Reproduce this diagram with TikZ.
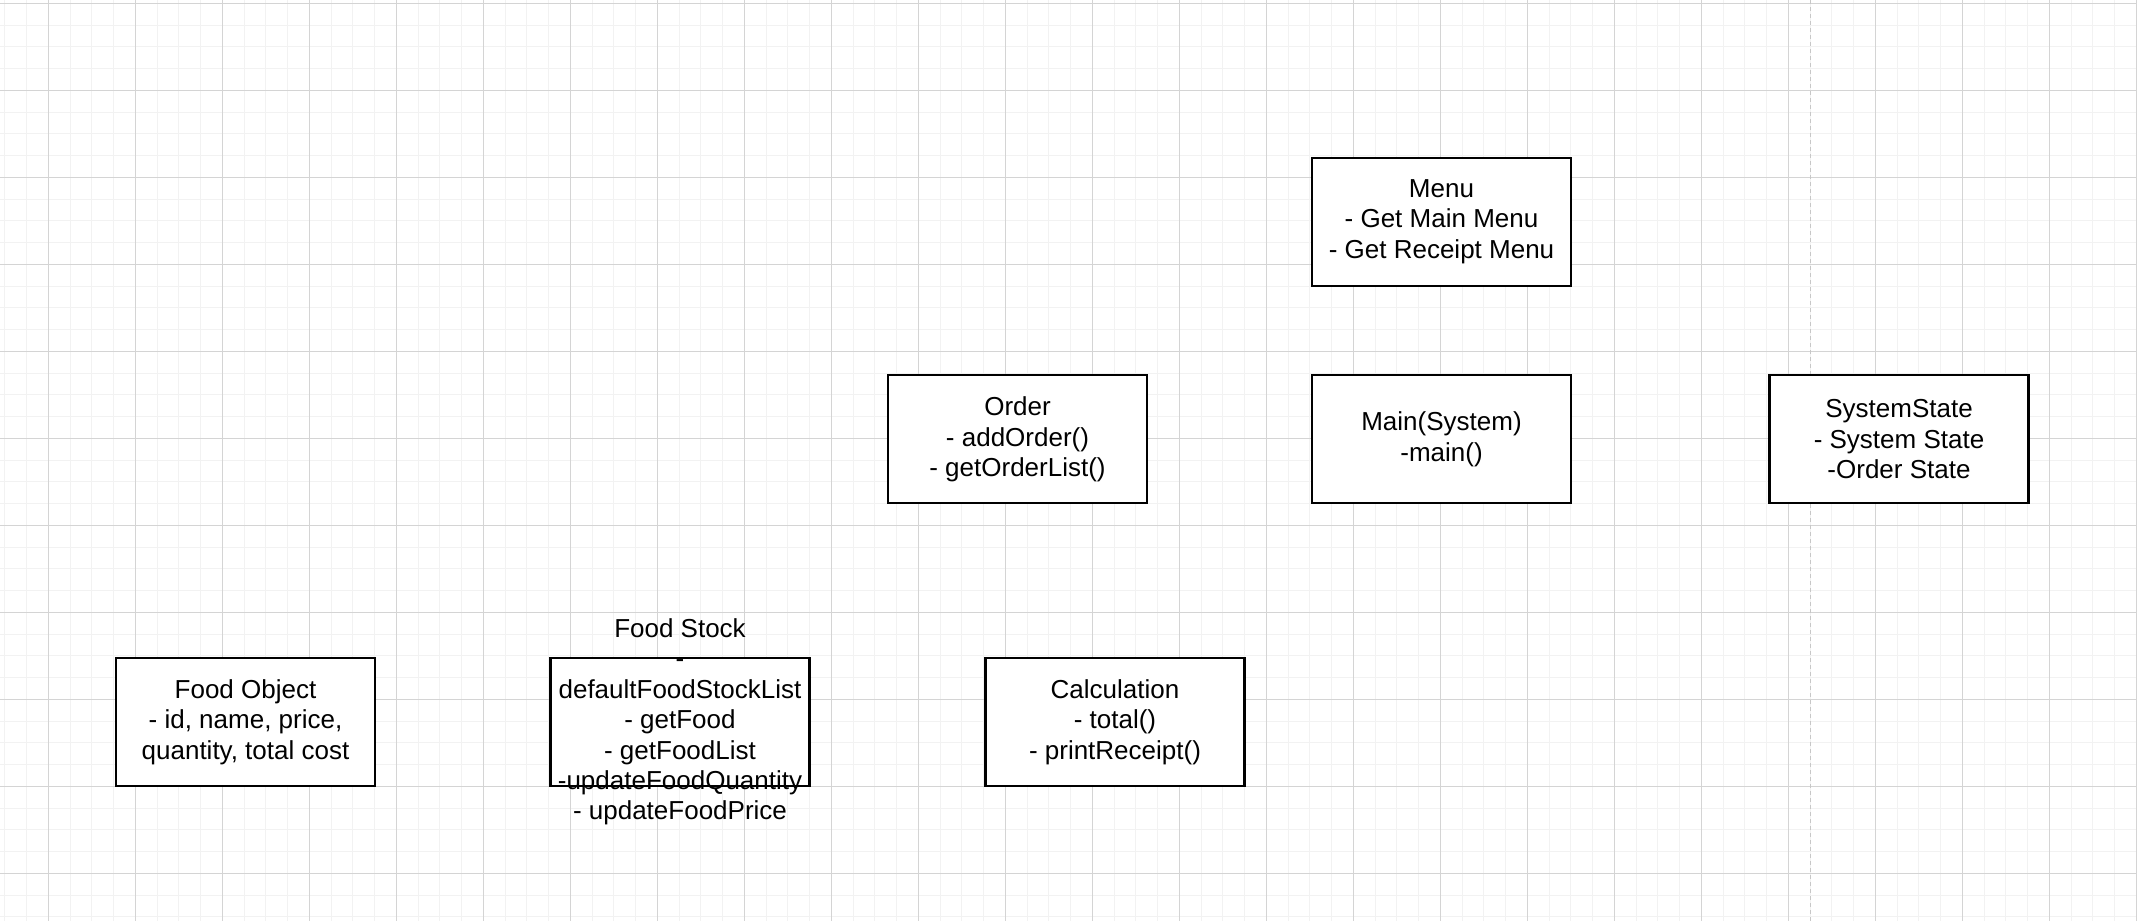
\documentclass[tikz,border=0pt]{standalone}
\usepackage{fontspec}
\setmainfont{Liberation Sans}
\usepackage{tikz}
\definecolor{minorgrid}{rgb}{0.95,0.95,0.95}
\definecolor{majorgrid}{rgb}{0.83,0.83,0.83}
\definecolor{guide}{rgb}{0.78,0.78,0.78}

\begin{document}
\begin{tikzpicture}[
  x=0.5pt, y=-0.5pt,
  minorline/.style={draw=minorgrid, line width=0.5pt},
  majorline/.style={draw=majorgrid, line width=0.5pt},
  guideline/.style={draw=guide, line width=0.75pt, dash pattern=on 2pt off 1.5pt},
  classbox/.style={draw=black, line width=1.1pt, fill=white,
    minimum width=129.5pt, minimum height=64pt, inner sep=0pt,
    align=center, font=\fontsize{13pt}{15.2pt}\selectfont},
  boxtext/.style={align=center, inner sep=0pt,
    font=\fontsize{13pt}{15.2pt}\selectfont},
  ]
  % Page and background
  \useasboundingbox (0,0) rectangle (2137,921);
  \fill[white] (0,0) rectangle (2137,921);
  % Grid, minor lines first
  \foreach \ii in {0, 1, ..., 98} {
    \draw[minorline] ({4.8 + 21.75 * \ii}, 0) -- ({4.8 + 21.75 * \ii}, 921);
  }
  \foreach \ii in {0, 1, ..., 42} {
    \draw[minorline] (0, {3.3 + 21.75 * \ii}) -- (2137, {3.3 + 21.75 * \ii});
  }
  \foreach \ii in {0, 1, ..., 24} {
    \draw[majorline] ({48.3 + 87 * \ii}, 0) -- ({48.3 + 87 * \ii}, 921);
  }
  \foreach \ii in {0, 1, ..., 10} {
    \draw[majorline] (0, {3.3 + 87 * \ii}) -- (2137, {3.3 + 87 * \ii});
  }
  % Page break guide
  \coordinate (guidetop) at (1810.7, 0);
  \coordinate (guidebot) at (1810.7, 921);
  \draw[guideline] (guidetop) -- (guidebot);

  % Classes
  \node[classbox] (menu) at (1441.5, 221.7)
    {Menu\\- Get Main Menu\\- Get Receipt Menu};
  \node[classbox] (order) at (1017.5, 439.3)
    {Order\\- addOrder()\\- getOrderList()};
  \node[classbox] (main) at (1441.5, 439.3)
    {Main(System)\\-main()};
  \node[classbox] (sysstate) at (1899, 439.3)
    {SystemState\\- System State\\-Order State};
  \node[classbox] (foodobj) at (245.5, 722)
    {Food Object\\- id, name, price,\\quantity, total cost};
  \node[classbox] (foodstock) at (680, 722) {};
  \node[boxtext] (foodstocktext) at (foodstock.center)
    {Food Stock\\-\\defaultFoodStockList\\- getFood\\- getFoodList\\-updateFoodQuantity\\- updateFoodPrice};
  \node[classbox] (calc) at (1115, 722)
    {Calculation\\- total()\\- printReceipt()};
\end{tikzpicture}
\end{document}
